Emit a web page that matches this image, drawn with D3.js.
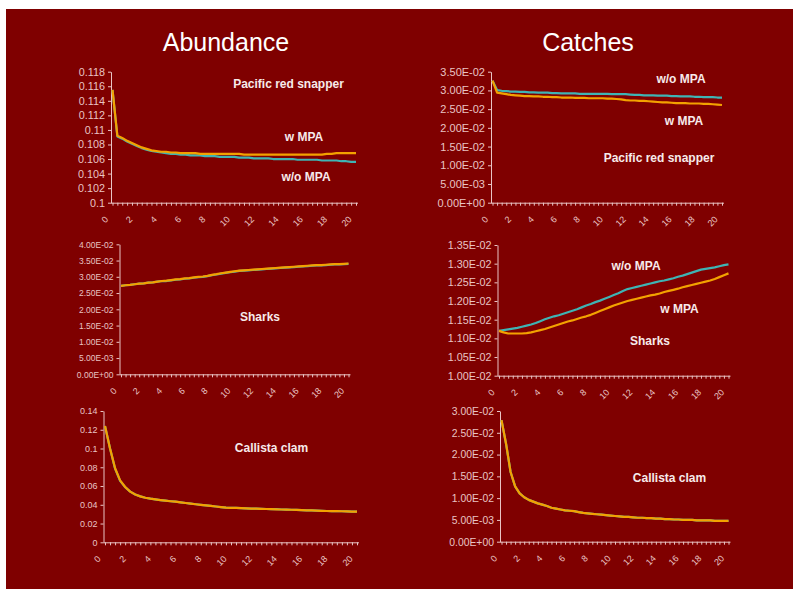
<!DOCTYPE html>
<html><head><meta charset="utf-8">
<script src="https://cdn.jsdelivr.net/npm/d3@7/dist/d3.min.js"></script>
<style>body{margin:0;background:#fff}svg{display:block}text{font-family:"Liberation Sans",Arial,sans-serif}</style>
</head><body>
<svg id="c" width="793" height="589"></svg>
<script>
// ---------- categories ----------
const steps = [0,1,2,3,4,5,6,7,8,9,10,11,12,13,14,15,16,17,18,19,20,21,22,23,24,25,26,27,28,29,30,31,32,33,34,35,36,37,38,39,40,41,42,43,44,45,46,47,48,49,50];
const xLabelSteps = [0,5,10,15,20,25,30,35,40,45,50];
const xLabels = ["0","2","4","6","8","10","12","14","16","18","20"];
const seriesNames = ["w/o MPA","w MPA"];

// ---------- Abundance: Pacific red snapper ----------
const snapperAbundWoMPA = [0.1155,0.1091,0.1088,0.1084,0.1081,0.1078,0.1075,0.1073,0.1071,0.1070,0.1069,0.1068,0.1067,0.1067,0.1066,0.1066,0.1065,0.1065,0.1065,0.1064,0.1064,0.1064,0.1063,0.1063,0.1063,0.1063,0.1062,0.1062,0.1062,0.1061,0.1061,0.1061,0.1061,0.1060,0.1060,0.1060,0.1060,0.1060,0.1059,0.1059,0.1059,0.1059,0.1059,0.1058,0.1058,0.1058,0.1058,0.1057,0.1057,0.1056,0.1056];
const snapperAbundWMPA  = [0.1155,0.1092,0.1089,0.1085,0.1082,0.1079,0.1076,0.1074,0.1072,0.1071,0.1070,0.1070,0.1069,0.1069,0.1068,0.1068,0.1068,0.1068,0.1067,0.1067,0.1067,0.1067,0.1067,0.1067,0.1067,0.1067,0.1067,0.1066,0.1066,0.1066,0.1066,0.1066,0.1066,0.1066,0.1066,0.1066,0.1066,0.1066,0.1066,0.1066,0.1066,0.1066,0.1066,0.1066,0.1067,0.1067,0.1068,0.1068,0.1068,0.1068,0.1068];
const snapperAbundTicks = [0.1,0.102,0.104,0.106,0.108,0.11,0.112,0.114,0.116,0.118];
const snapperAbundTickLabels = ["0.1","0.102","0.104","0.106","0.108","0.11","0.112","0.114","0.116","0.118"];

// ---------- Catches: Pacific red snapper ----------
const snapperCatchWoMPA = [0.0326,0.0301,0.0299,0.0298,0.0297,0.0297,0.0296,0.0296,0.0295,0.0295,0.0294,0.0294,0.0294,0.0293,0.0293,0.0292,0.0292,0.0292,0.0292,0.0291,0.0291,0.0291,0.0291,0.0291,0.0291,0.0291,0.0290,0.0290,0.0290,0.0290,0.0289,0.0288,0.0288,0.0287,0.0287,0.0287,0.0286,0.0286,0.0286,0.0285,0.0285,0.0284,0.0284,0.0284,0.0283,0.0283,0.0282,0.0282,0.0282,0.0281,0.0281];
const snapperCatchWMPA  = [0.0326,0.0294,0.0292,0.0290,0.0288,0.0287,0.0286,0.0285,0.0285,0.0284,0.0284,0.0283,0.0283,0.0282,0.0282,0.0281,0.0281,0.0281,0.0280,0.0280,0.0280,0.0279,0.0279,0.0279,0.0279,0.0278,0.0278,0.0277,0.0276,0.0274,0.0273,0.0273,0.0272,0.0272,0.0271,0.0270,0.0269,0.0268,0.0268,0.0267,0.0266,0.0266,0.0266,0.0265,0.0265,0.0265,0.0264,0.0264,0.0263,0.0262,0.0261];
const catch035Ticks = [0,0.005,0.01,0.015,0.02,0.025,0.03,0.035];
const catch035TickLabels = ["0.00E+00","5.00E-03","1.00E-02","1.50E-02","2.00E-02","2.50E-02","3.00E-02","3.50E-02"];

// ---------- Abundance: Sharks ----------
const sharksAbundWMPA  = [0.0272,0.0274,0.0275,0.0277,0.0279,0.0280,0.0282,0.0283,0.0285,0.0287,0.0288,0.0290,0.0292,0.0293,0.0295,0.0296,0.0298,0.0300,0.0301,0.0303,0.0306,0.0308,0.0311,0.0313,0.0315,0.0317,0.0319,0.0320,0.0321,0.0322,0.0323,0.0324,0.0325,0.0326,0.0327,0.0328,0.0329,0.0330,0.0331,0.0332,0.0333,0.0334,0.0335,0.0336,0.0336,0.0337,0.0338,0.0339,0.0339,0.0340,0.0341];
const sharksAbundWoMPA = [0.0272,0.0274,0.0275,0.0277,0.0279,0.0280,0.0282,0.0283,0.0285,0.0287,0.0287,0.0289,0.0291,0.0292,0.0294,0.0295,0.0297,0.0299,0.0300,0.0302,0.0305,0.0307,0.0310,0.0312,0.0314,0.0316,0.0318,0.0319,0.0320,0.0321,0.0322,0.0323,0.0324,0.0325,0.0326,0.0327,0.0328,0.0329,0.0330,0.0331,0.0332,0.0333,0.0334,0.0335,0.0335,0.0336,0.0337,0.0338,0.0338,0.0339,0.0340];
const sharksAbundTicks = [0,0.005,0.01,0.015,0.02,0.025,0.03,0.035,0.04];
const sharksAbundTickLabels = ["0.00E+00","5.00E-03","1.00E-02","1.50E-02","2.00E-02","2.50E-02","3.00E-02","3.50E-02","4.00E-02"];

// ---------- Catches: Sharks ----------
const sharksCatchWoMPA = [0.01120,0.01122,0.01124,0.01126,0.01128,0.01131,0.01134,0.01137,0.01141,0.01146,0.01151,0.01155,0.01159,0.01162,0.01166,0.01170,0.01174,0.01178,0.01183,0.01188,0.01192,0.01197,0.01201,0.01206,0.01211,0.01216,0.01221,0.01227,0.01232,0.01235,0.01238,0.01241,0.01244,0.01247,0.01250,0.01253,0.01255,0.01258,0.01261,0.01265,0.01268,0.01272,0.01276,0.01280,0.01284,0.01286,0.01288,0.01290,0.01293,0.01296,0.01298];
const sharksCatchWMPA  = [0.01120,0.01116,0.01113,0.01113,0.01113,0.01113,0.01114,0.01116,0.01119,0.01122,0.01125,0.01129,0.01133,0.01137,0.01141,0.01145,0.01148,0.01152,0.01156,0.01159,0.01163,0.01168,0.01173,0.01178,0.01183,0.01188,0.01192,0.01196,0.01200,0.01203,0.01206,0.01209,0.01212,0.01215,0.01217,0.01220,0.01224,0.01227,0.01230,0.01233,0.01237,0.01240,0.01243,0.01246,0.01249,0.01252,0.01255,0.01259,0.01264,0.01269,0.01274];
const sharksCatchTicks = [0.01,0.0105,0.011,0.0115,0.012,0.0125,0.013,0.0135];
const sharksCatchTickLabels = ["1.00E-02","1.05E-02","1.10E-02","1.15E-02","1.20E-02","1.25E-02","1.30E-02","1.35E-02"];

// ---------- Abundance: Callista clam ----------
const clamAbundWoMPA = [0.124,0.100,0.0785,0.0655,0.0588,0.0540,0.0510,0.0490,0.0475,0.0465,0.0457,0.0450,0.0444,0.0438,0.0433,0.0426,0.0419,0.0412,0.0406,0.0400,0.0394,0.0388,0.0382,0.0376,0.0370,0.0368,0.0366,0.0364,0.0362,0.0360,0.0359,0.0357,0.0355,0.0354,0.0353,0.0350,0.0348,0.0347,0.0345,0.0343,0.0341,0.0340,0.0338,0.0336,0.0334,0.0333,0.0332,0.0331,0.0329,0.0328,0.0327];
const clamAbundWMPA  = [0.124,0.100,0.0790,0.0660,0.0590,0.0540,0.0510,0.0490,0.0475,0.0465,0.0457,0.0450,0.0444,0.0438,0.0433,0.0426,0.0419,0.0412,0.0406,0.0400,0.0394,0.0388,0.0382,0.0376,0.0370,0.0368,0.0366,0.0364,0.0362,0.0360,0.0359,0.0357,0.0355,0.0354,0.0352,0.0350,0.0348,0.0347,0.0345,0.0343,0.0341,0.0340,0.0338,0.0336,0.0334,0.0333,0.0332,0.0331,0.0329,0.0328,0.0327];
const clamAbundTicks = [0,0.02,0.04,0.06,0.08,0.1,0.12,0.14];
const clamAbundTickLabels = ["0","0.02","0.04","0.06","0.08","0.1","0.12","0.14"];

// ---------- Catches: Callista clam ----------
const clamCatchWoMPA = [0.0279,0.0225,0.0160,0.0127,0.0111,0.0102,0.0096,0.0092,0.0088,0.0085,0.0082,0.0078,0.0076,0.0074,0.0072,0.0071,0.0070,0.0068,0.0066,0.0065,0.0064,0.0063,0.0062,0.0061,0.0060,0.0059,0.0058,0.0057,0.0057,0.0056,0.0055,0.0055,0.0054,0.0054,0.0053,0.0053,0.0052,0.0052,0.0051,0.0051,0.0050,0.0050,0.0050,0.0049,0.0049,0.0049,0.0049,0.0048,0.0048,0.0048,0.0048];
const clamCatchWMPA  = [0.0279,0.0225,0.0160,0.0127,0.0111,0.0102,0.0096,0.0092,0.0088,0.0085,0.0082,0.0078,0.0076,0.0074,0.0072,0.0071,0.0070,0.0068,0.0066,0.0065,0.0064,0.0063,0.0062,0.0061,0.0060,0.0059,0.0058,0.0057,0.0057,0.0056,0.0055,0.0055,0.0054,0.0054,0.0053,0.0053,0.0052,0.0052,0.0051,0.0051,0.0050,0.0050,0.0050,0.0049,0.0049,0.0049,0.0049,0.0048,0.0048,0.0048,0.0048];
const clamCatchTicks = [0,0.005,0.01,0.015,0.02,0.025,0.03];
const clamCatchTickLabels = ["0.00E+00","5.00E-03","1.00E-02","1.50E-02","2.00E-02","2.50E-02","3.00E-02"];

// ---------- styling ----------
const BG = "#7f0000";
const AXIS = "#e9c4c4";
const TEXT = "#f7eaea";
const colorWoMPA = "#3fb4b4";
const colorWMPA = "#f3a200";

const svg = d3.select("#c");
svg.append("rect").attr("x",6).attr("y",9).attr("width",787).attr("height",580).attr("fill",BG);

svg.append("text").attr("x",226).attr("y",51).attr("text-anchor","middle").attr("fill","#ffffff").attr("font-size",25).text("Abundance");
svg.append("text").attr("x",588).attr("y",51).attr("text-anchor","middle").attr("fill","#ffffff").attr("font-size",25).text("Catches");

function panel(cfg) {
  const g = svg.append("g");
  const x = d3.scalePoint().domain(steps).range([cfg.x0 + 1.5, cfg.x1]);
  const y = d3.scaleLinear().domain([cfg.ticks[0], cfg.ticks[cfg.ticks.length-1]]).range([cfg.yBot, cfg.yTop]);

  // y axis
  const ya = g.append("g").attr("transform", `translate(${cfg.x0},0)`)
    .call(d3.axisLeft(y).tickValues(cfg.ticks).tickFormat((d,i)=>cfg.labels[i]).tickSize(3).tickSizeOuter(0).tickPadding(3));
  ya.selectAll("path,line").attr("stroke",AXIS);
  ya.selectAll("text").attr("fill",AXIS).attr("font-size",cfg.fs).attr("font-family",'"Liberation Sans",Arial,sans-serif');

  // x axis
  const xa = g.append("g").attr("transform", `translate(0,${cfg.yBot})`)
    .call(d3.axisBottom(x).tickValues(steps).tickFormat("").tickSize(3).tickSizeOuter(0));
  xa.select(".domain").attr("d", `M${cfg.x0},0.5H${cfg.x1 + 2}`);
  xa.selectAll("path,line").attr("stroke",AXIS);

  g.selectAll("text.xl").data(xLabelSteps).join("text").attr("class","xl")
    .attr("transform", (d,i)=>`translate(${x(d)-6},${cfg.yBot+15}) rotate(-45)`)
    .attr("text-anchor","end").attr("dy","0.35em")
    .attr("fill",AXIS).attr("font-size",9)
    .text((d,i)=>xLabels[i]);

  const line = d3.line().x((d,i)=>x(steps[i])).y(d=>y(d));
  cfg.series.forEach(s=>{
    g.append("path").datum(s.values).attr("d",line).attr("fill","none")
      .attr("stroke",s.color).attr("stroke-width",2.2).attr("stroke-linejoin","round");
  });

  cfg.notes.forEach(n=>{
    g.append("text").attr("x",n.x).attr("y",n.y).attr("text-anchor","middle").attr("dominant-baseline","central")
      .attr("fill",TEXT).attr("font-weight","bold").attr("font-size",12).text(n.t);
  });
}

panel({x0:111,x1:356,yTop:71.7,yBot:202.7,ticks:snapperAbundTicks,labels:snapperAbundTickLabels,fs:10.8,
  series:[{values:snapperAbundWoMPA,color:colorWoMPA},{values:snapperAbundWMPA,color:colorWMPA}],
  notes:[{t:"Pacific red snapper",x:288.5,y:84},{t:"w MPA",x:304,y:137},{t:"w/o MPA",x:306,y:177}]});

panel({x0:491,x1:722,yTop:71.7,yBot:202.7,ticks:catch035Ticks,labels:catch035TickLabels,fs:11,
  series:[{values:snapperCatchWoMPA,color:colorWoMPA},{values:snapperCatchWMPA,color:colorWMPA}],
  notes:[{t:"w/o MPA",x:681,y:79},{t:"w MPA",x:684,y:121},{t:"Pacific red snapper",x:659,y:158}]});

panel({x0:119.5,x1:348.5,yTop:244.3,yBot:374.3,ticks:sharksAbundTicks,labels:sharksAbundTickLabels,fs:8.5,
  series:[{values:sharksAbundWoMPA,color:colorWoMPA},{values:sharksAbundWMPA,color:colorWMPA}],
  notes:[{t:"Sharks",x:260,y:317}]});

panel({x0:497.5,x1:728.5,yTop:245,yBot:375.7,ticks:sharksCatchTicks,labels:sharksCatchTickLabels,fs:10.8,
  series:[{values:sharksCatchWoMPA,color:colorWoMPA},{values:sharksCatchWMPA,color:colorWMPA}],
  notes:[{t:"w/o MPA",x:636,y:266},{t:"w MPA",x:679.5,y:309},{t:"Sharks",x:650,y:341}]});

panel({x0:103.5,x1:357,yTop:411,yBot:542.3,ticks:clamAbundTicks,labels:clamAbundTickLabels,fs:9,
  series:[{values:clamAbundWoMPA,color:colorWoMPA},{values:clamAbundWMPA,color:colorWMPA}],
  notes:[{t:"Callista clam",x:271.5,y:448}]});

panel({x0:500,x1:728.5,yTop:411,yBot:541.7,ticks:clamCatchTicks,labels:clamCatchTickLabels,fs:10.4,
  series:[{values:clamCatchWoMPA,color:colorWoMPA},{values:clamCatchWMPA,color:colorWMPA}],
  notes:[{t:"Callista clam",x:669.5,y:478}]});
</script>
</body></html>
